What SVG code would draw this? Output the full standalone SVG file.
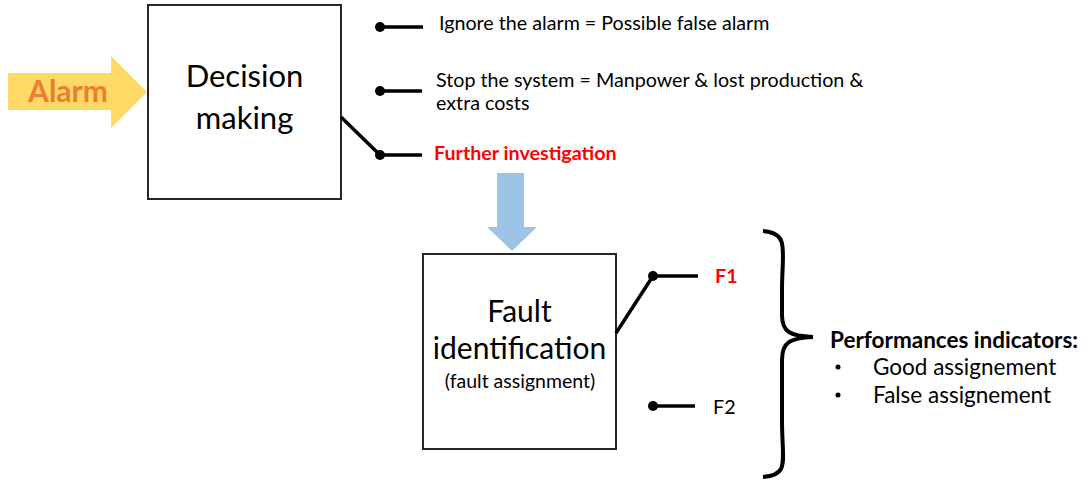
<svg xmlns="http://www.w3.org/2000/svg" width="1088" height="485" viewBox="0 0 1088 485">
<style>
text{font-family:Lato,"Open Sans","Liberation Sans",sans-serif;fill:#000}
.box{fill:#fff;stroke:#262626;stroke-width:2}
.ln{stroke:#000;stroke-width:3.5;fill:none;stroke-linecap:butt}
.dot{fill:#000}
.big{font-size:31px}
.mid{font-size:19.7px}
.red{fill:#ff0000;font-weight:bold}
.ind{font-size:22.5px}
</style>
<rect width="1088" height="485" fill="#fff"/>
<g id="alarm">
<polygon points="8,73 111,73 111,56 147,92 111,128 111,110 8,110" fill="#ffd966"/>
<text x="68" y="102" text-anchor="middle" style="font-size:30px;font-weight:bold;fill:#ed7d31">Alarm</text>
</g>
<g id="decision">
<rect class="box" x="148" y="5" width="193" height="194"/>
<text class="big" x="244.5" y="87" text-anchor="middle">Decision</text>
<text class="big" x="244.5" y="129" text-anchor="middle">making</text>
</g>
<g id="opt-ignore">
<text class="mid" x="439" y="30">Ignore the alarm = Possible false alarm</text>
</g>
<g id="opt-stop">
<text class="mid" x="436" y="87">Stop the system = Manpower &amp; lost production &amp;</text>
<text class="mid" x="436" y="110">extra costs</text>
</g>
<g id="opt-further">
<text class="mid red" x="434" y="160">Further investigation</text>
</g>
<g id="fault">
<polygon points="497,173 524,173 524,227 537,227 512,251 487,227 497,227" fill="#9dc3e6"/>
<rect class="box" x="423" y="254" width="193" height="195"/>
<text x="519.5" y="322" text-anchor="middle" style="font-size:30px">Fault</text>
<text x="519.5" y="359" text-anchor="middle" style="font-size:30px">identification</text>
<text x="520" y="388" text-anchor="middle" style="font-size:19.5px">(fault assignment)</text>
</g>
<g id="f1"><text class="mid red" x="715" y="283">F1</text></g>
<g id="f2"><text class="mid" x="713" y="414">F2</text></g>
<g id="indicators">
<path d="M763,231 C790,233 782,250 782,290 L782,315 C782,332 790,336 813,337 C790,338 782,342 782,360 L782,420 C782,462 790,475 763,477" fill="none" stroke="#000" stroke-width="4"/>
<text class="ind" x="830" y="348" font-weight="bold">Performances indicators:</text>
<circle cx="838" cy="367" r="2.5"/>
<text class="ind" x="873" y="375">Good assignement</text>
<circle cx="838" cy="395" r="2.5"/>
<text class="ind" x="873" y="403">False assignement</text>
</g>
<g id="connectors">
<circle class="dot" cx="380" cy="27" r="5"/><line class="ln" x1="380" y1="27" x2="423" y2="27"/>
<circle class="dot" cx="380" cy="91" r="5"/><line class="ln" x1="380" y1="91" x2="422" y2="91"/>
<circle class="dot" cx="380" cy="155" r="5"/><line class="ln" x1="380" y1="155" x2="422" y2="155"/>
<line class="ln" x1="341" y1="117" x2="380" y2="155"/>
<circle class="dot" cx="653" cy="276" r="5"/><line class="ln" x1="653" y1="276" x2="698" y2="276"/>
<line class="ln" x1="616" y1="333" x2="653" y2="276"/>
<circle class="dot" cx="653" cy="406" r="5"/><line class="ln" x1="653" y1="406" x2="695" y2="406"/>
</g>
</svg>
